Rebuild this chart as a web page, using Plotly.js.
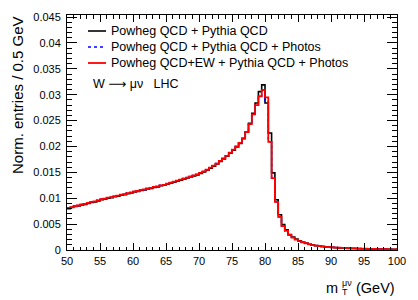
<!DOCTYPE html>
<html><head><meta charset="utf-8">
<script src="https://cdn.plot.ly/plotly-3.0.1.min.js"></script>
<style>html,body{margin:0;padding:0;background:#fff}#c{width:418px;height:300px}</style>
</head><body><div id="c"></div>
<script>
// Histogram binning: 0.5 GeV bins from 50 to 100 GeV
const binStart = 50, binWidth = 0.5, nBins = 100;

// Powheg QCD + Pythia QCD (black)
const qcd = [
0.0080,0.0082,0.0084,0.0085,0.0087,0.0088,0.0090,0.0092,0.0093,0.0095,
0.0097,0.0098,0.0100,0.0101,0.0103,0.0104,0.0106,0.0107,0.0109,0.0110,
0.0112,0.0113,0.0115,0.0116,0.0118,0.0119,0.0121,0.0122,0.0124,0.0125,
0.0127,0.0129,0.0131,0.0133,0.0135,0.0137,0.0139,0.0141,0.0143,0.0145,
0.0148,0.0151,0.0154,0.0158,0.0162,0.0166,0.0171,0.0176,0.0181,0.0187,
0.0193,0.0199,0.0206,0.0215,0.0228,0.0245,0.0264,0.0284,0.0306,0.0319,
0.0284,0.0226,0.0149,0.0097,0.0068,0.0049,0.0039,0.0030,0.0025,0.0021,
0.0018,0.0015,0.0013,0.0011,0.00095,0.00085,0.00075,0.00068,0.00061,0.00055,
0.00050,0.00046,0.00042,0.00039,0.00036,0.00033,0.00031,0.00029,0.00027,0.00025,
0.00023,0.00022,0.00020,0.00019,0.00018,0.00017,0.00016,0.00015,0.00014,0.00013];

// Powheg QCD + Pythia QCD + Photos (blue dotted)
const qcdPhotos = [
0.0081,0.0083,0.0085,0.0086,0.0088,0.0089,0.0091,0.0093,0.0094,0.0096,
0.0098,0.0099,0.0101,0.0102,0.0104,0.0105,0.0107,0.0108,0.0110,0.0111,
0.0113,0.0114,0.0116,0.0117,0.0119,0.0120,0.0122,0.0123,0.0125,0.0126,
0.0128,0.0130,0.0132,0.0134,0.0136,0.0138,0.0140,0.0142,0.0144,0.0146,
0.0149,0.0152,0.0155,0.0159,0.0163,0.0167,0.0172,0.0177,0.0182,0.0188,
0.0194,0.0200,0.0207,0.0216,0.0228,0.0243,0.0262,0.0280,0.0297,0.0309,
0.0289,0.0209,0.0139,0.0093,0.0064,0.0046,0.0037,0.0029,0.0024,0.0020,
0.0017,0.0015,0.0013,0.0011,0.00095,0.00085,0.00076,0.00069,0.00062,0.00056,
0.00051,0.00047,0.00043,0.00040,0.00037,0.00034,0.00032,0.00030,0.00028,0.00026,
0.00024,0.00022,0.00021,0.00020,0.00018,0.00017,0.00016,0.00015,0.00014,0.00013];

// Powheg QCD+EW + Pythia QCD + Photos (red)
const qcdEwPhotos = [
0.0081,0.0083,0.0085,0.0086,0.0088,0.0089,0.0091,0.0093,0.0094,0.0096,
0.0098,0.0099,0.0101,0.0102,0.0104,0.0105,0.0107,0.0108,0.0110,0.0111,
0.0113,0.0114,0.0116,0.0117,0.0119,0.0120,0.0122,0.0123,0.0125,0.0126,
0.0128,0.0130,0.0132,0.0134,0.0136,0.0138,0.0140,0.0142,0.0144,0.0146,
0.0149,0.0152,0.0155,0.0159,0.0163,0.0167,0.0172,0.0177,0.0182,0.0188,
0.0194,0.0200,0.0207,0.0216,0.0228,0.0243,0.0262,0.0280,0.0297,0.0309,
0.0295,0.0209,0.0139,0.0093,0.0064,0.0046,0.0037,0.0029,0.0024,0.0020,
0.0017,0.0015,0.0013,0.0011,0.00095,0.00085,0.00076,0.00069,0.00062,0.00056,
0.00051,0.00047,0.00043,0.00040,0.00037,0.00034,0.00032,0.00030,0.00028,0.00026,
0.00024,0.00022,0.00021,0.00020,0.00018,0.00017,0.00016,0.00015,0.00014,0.00013];

const seriesNames = ["Powheg QCD + Pythia QCD",
                     "Powheg QCD + Pythia QCD + Photos",
                     "Powheg QCD+EW + Pythia QCD + Photos"];
const xTickVals = [50,55,60,65,70,75,80,85,90,95,100];
const yTickVals = [0,0.005,0.01,0.015,0.02,0.025,0.03,0.035,0.04,0.045];
const yTickText = ["0","0.005","0.01","0.015","0.02","0.025","0.03","0.035","0.04","0.045"];

function stepXY(vals){
  const x=[], y=[];
  for(let i=0;i<vals.length;i++){ x.push(binStart+i*binWidth); y.push(vals[i]); }
  x.push(binStart+vals.length*binWidth); y.push(vals[vals.length-1]);
  return {x,y};
}
const styles = [
  {color:'#000000', width:1.6, dash:'solid'},
  {color:'#0000ff', width:1.4, dash:'dot'},
  {color:'#ff0000', width:1.8, dash:'solid'}
];
const allSeries = [qcd, qcdPhotos, qcdEwPhotos];
const traces = allSeries.map((s,k)=>{
  const d = stepXY(s);
  return {x:d.x, y:d.y, type:'scatter', mode:'lines', name:seriesNames[k],
          line:{shape:'hv', color:styles[k].color, width:styles[k].width, dash:styles[k].dash},
          showlegend:false, hoverinfo:'skip'};
});

// plot area in pixels: x 67..397, y 15..250
const L=67, R=397, T=15, B=250;
const px = p => (p-L)/(R-L);
const py = p => (B-p)/(B-T);
const FONT = 'Liberation Sans, Arial, Helvetica, sans-serif';

const shapes = [], annotations = [];
const legY = [31, 47, 63];
for(let k=0;k<3;k++){
  shapes.push({type:'line', xref:'paper', yref:'paper', x0:px(88), x1:px(106), y0:py(legY[k]), y1:py(legY[k]),
               line:{color:styles[k].color, width:styles[k].width, dash:styles[k].dash}});
  annotations.push({xref:'paper', yref:'paper', x:px(109), y:py(legY[k]), xanchor:'left', yanchor:'middle',
               text:seriesNames[k], showarrow:false, font:{family:FONT, size:12.5, color:'#000'}});
}
annotations.push({xref:'paper', yref:'paper', x:px(91), y:py(83), xanchor:'left', yanchor:'middle',
  text:'W <span style="font-family:DejaVu Sans">\u27f6</span> \u03bc\u03bd   LHC', showarrow:false, font:{family:FONT, size:12.5, color:'#000'}});
// y title
annotations.push({xref:'paper', yref:'paper', x:px(17), y:py(14), xanchor:'center', yanchor:'top', textangle:-90,
  text:'Norm. entries / 0.5 GeV', showarrow:false, font:{family:FONT, size:15, color:'#000'}});
// x title pieces
annotations.push({xref:'paper', yref:'paper', x:px(397), y:py(288), xanchor:'right', yanchor:'middle',
  text:'(GeV)', showarrow:false, font:{family:FONT, size:14.5, color:'#000'}});
annotations.push({xref:'paper', yref:'paper', x:px(340), y:py(288), xanchor:'right', yanchor:'middle',
  text:'m', showarrow:false, font:{family:FONT, size:14.5, color:'#000'}});
annotations.push({xref:'paper', yref:'paper', x:px(339.5), y:py(292), xanchor:'left', yanchor:'middle',
  text:'T', showarrow:false, font:{family:FONT, size:9, color:'#000'}});
annotations.push({xref:'paper', yref:'paper', x:px(339.5), y:py(283), xanchor:'left', yanchor:'middle',
  text:'\u03bc\u03bd', showarrow:false, font:{family:FONT, size:9, color:'#000'}});

const layout = {
  width:418, height:300,
  margin:{l:L, r:418-R, t:T, b:300-B, pad:0},
  paper_bgcolor:'#fff', plot_bgcolor:'#fff',
  font:{family:FONT, size:11, color:'#000'},
  xaxis:{range:[50,100], tickvals:xTickVals, ticktext:xTickVals.map(String),
    ticks:'inside', ticklen:7, tickcolor:'#000', tickwidth:1,
    minor:{ticks:'inside', ticklen:3.5, dtick:1, tickcolor:'#000', tickwidth:1, showgrid:false},
    showline:true, linecolor:'#000', linewidth:1, mirror:'ticks', showgrid:false, zeroline:false,
    tickfont:{family:FONT, size:11, color:'#000'}, ticklabelstandoff:1},
  yaxis:{range:[0,0.0454], tickvals:yTickVals, ticktext:yTickText,
    ticks:'inside', ticklen:10, tickcolor:'#000', tickwidth:1,
    minor:{ticks:'inside', ticklen:5, dtick:0.001, tickcolor:'#000', tickwidth:1, showgrid:false},
    showline:true, linecolor:'#000', linewidth:1, mirror:'ticks', showgrid:false, zeroline:false,
    tickfont:{family:FONT, size:11, color:'#000'}, ticklabelstandoff:3},
  shapes, annotations, showlegend:false
};
Plotly.newPlot('c', traces, layout, {staticPlot:true, displayModeBar:false});
</script></body></html>
